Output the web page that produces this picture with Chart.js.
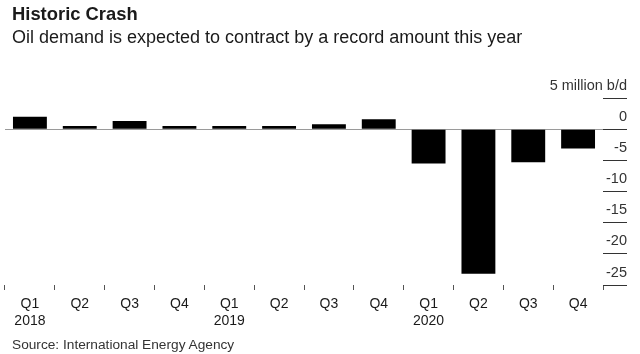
<!DOCTYPE html>
<html>
<head>
<meta charset="utf-8">
<script src="https://cdn.jsdelivr.net/npm/chart.js@4"></script>
<style>
  html, body { margin: 0; padding: 0; background: #fff; }
  #wrap { position: relative; width: 640px; height: 354px; font-family: "Liberation Sans", Arial, sans-serif; color: #1a1a1a; }
  .title { position: absolute; left: 12px; top: 3px; font-size: 18.4px; font-weight: bold; }
  .sub { position: absolute; left: 12px; top: 27px; font-size: 18px; }
  .src { position: absolute; left: 12px; top: 337px; font-size: 13.7px; color: #333; }
  #box { position: absolute; left: 0; top: 0; width: 640px; height: 354px; }
</style>
</head>
<body>
<div id="wrap">
  <div id="box"><canvas id="chart"></canvas></div>
  <div class="title">Historic Crash</div>
  <div class="sub">Oil demand is expected to contract by a record amount this year</div>
  <div class="src">Source: International Energy Agency</div>
</div>
<script>
// quarterly change in oil demand, million b/d
const quarters = ['Q1', 'Q2', 'Q3', 'Q4', 'Q1', 'Q2', 'Q3', 'Q4', 'Q1', 'Q2', 'Q3', 'Q4'];
const years = ['2018', '', '', '', '2019', '', '', '', '2020', '', '', ''];
const demandChange = [2.0, 0.5, 1.3, 0.5, 0.5, 0.5, 0.8, 1.6, -5.5, -23.2, -5.3, -3.1];
const yTicks = [5, 0, -5, -10, -15, -20, -25];

const labels = quarters.map((q, i) => years[i] ? [q, years[i]] : q);

const ctx = document.getElementById('chart').getContext('2d');
new Chart(ctx, {
  type: 'bar',
  data: {
    labels,
    datasets: [{
      data: demandChange,
      backgroundColor: '#000',
      borderWidth: 0,
      barPercentage: 0.68,
      categoryPercentage: 1
    }]
  },
  options: {
    responsive: true,
    maintainAspectRatio: false,
    animation: false,
    layout: { padding: { top: 98, left: 5, right: 13, bottom: 19 } },
    plugins: {
      legend: { display: false },
      tooltip: { enabled: false }
    },
    scales: {
      x: {
        border: { display: false },
        grid: {
          drawOnChartArea: false,
          tickLength: 5,
          tickColor: '#555'
        },
        ticks: {
          color: '#1a1a1a',
          font: { family: 'Liberation Sans', size: 14, lineHeight: 1.25 },
          padding: 5,
          maxRotation: 0,
          autoSkip: false
        }
      },
      y: {
        position: 'right',
        min: Math.min(...yTicks),
        max: Math.max(...yTicks),
        afterFit: (scale) => { scale.width = 24; },
        afterBuildTicks: (scale) => { scale.ticks = yTicks.map(v => ({ value: v })); },
        border: { display: false },
        grid: {
          color: (c) => c.tick && c.tick.value === 0 ? '#9a9a9a' : 'rgba(0,0,0,0)',
          tickColor: '#333',
          tickLength: 24
        },
        ticks: {
          mirror: true,
          padding: 24,
          labelOffset: -12.5,
          color: '#333',
          font: { family: 'Liberation Sans', size: 14.5 },
          callback: (v) => v === 5 ? '5 million b/d' : v
        }
      }
    }
  }
});
</script>
</body>
</html>
